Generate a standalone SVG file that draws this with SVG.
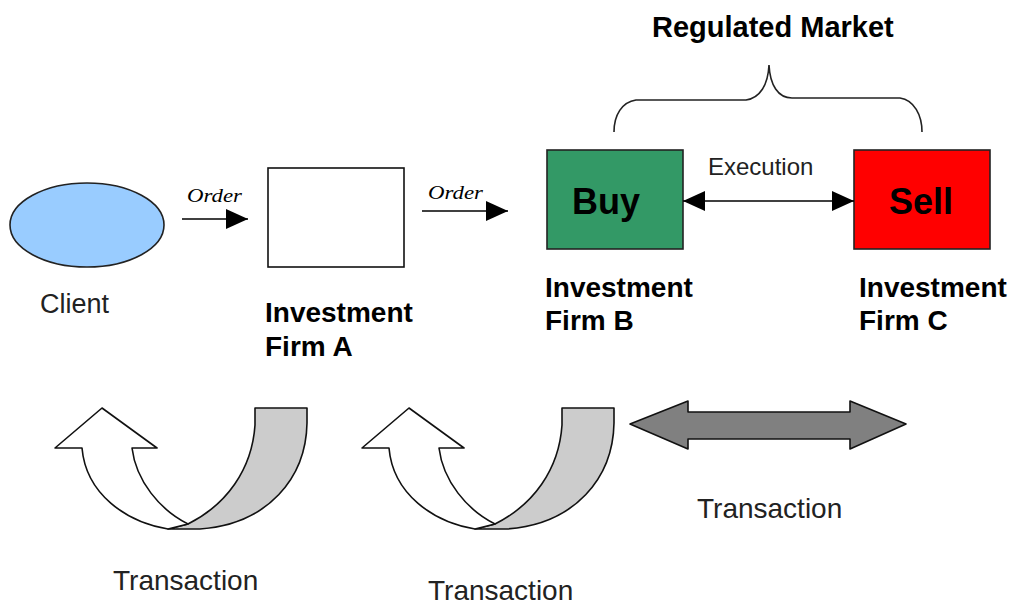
<svg xmlns="http://www.w3.org/2000/svg" width="1016" height="605" viewBox="0 0 1016 605">
<style>
.lbl{font-family:"Liberation Sans",Arial,sans-serif;font-size:27px;fill:#222}
.bold{font-family:"Liberation Sans",Arial,sans-serif;font-size:28px;font-weight:bold;fill:#000}
.big{font-family:"Liberation Sans",Arial,sans-serif;font-size:36px;font-weight:bold;fill:#000}
.ord{font-family:"Liberation Serif","Times New Roman",serif;font-size:18px;font-style:italic;fill:#000}
.edge{stroke:#000;stroke-width:1.6;fill:none}
.shape{stroke:#111;stroke-width:1.6;stroke-linejoin:round}
</style>
<defs>
<marker id="ahBig" markerWidth="22" markerHeight="20" refX="22" refY="10" orient="auto" markerUnits="userSpaceOnUse">
<path d="M0,0 L22,10 L0,20 Z" fill="#000"/>
</marker>
<marker id="ahBigS" markerWidth="22" markerHeight="20" refX="0" refY="10" orient="auto" markerUnits="userSpaceOnUse">
<path d="M22,0 L0,10 L22,20 Z" fill="#000"/>
</marker>
<g id="curved">
<path class="shape" fill="#cccccc" d="M255,408 L307,408 L307,423 C306,478 268,524 200,529 L168,529 L188,524 C226,505 252,470 255,425 Z"/>
<path class="shape" fill="#ffffff" d="M168,529 C126,522 86,494 82,448 L55,448 L102,408 L157,448 L132,448 C136,481 160,510 188,524 Z"/>
</g>
</defs>

<g id="title">
<text x="652" y="37" class="bold" style="font-size:29px">Regulated Market</text>
<path d="M614,132 C614,115 622,102 636,100 L746,100 C760,98 768,85 769,65 C770,85 778,98 792,98 L900,98 C914,100 922,115 922,132" fill="none" stroke="#222" stroke-width="1.6"/>
</g>

<g id="client">
<ellipse cx="87" cy="225" rx="77" ry="42" fill="#99ccff" stroke="#222" stroke-width="1.6"/>
<text x="40" y="313" class="lbl">Client</text>
</g>

<g id="firmA">
<rect x="268" y="168" width="136" height="99" fill="#fff" stroke="#111" stroke-width="1.6"/>
<text x="265" y="322" class="bold">Investment</text>
<text x="265" y="356" class="bold">Firm A</text>
</g>

<g id="firmB">
<rect x="547" y="150" width="136" height="99" fill="#339966" stroke="#222" stroke-width="1.6"/>
<text x="572" y="214" class="big">Buy</text>
<text x="545" y="297" class="bold">Investment</text>
<text x="545" y="330" class="bold">Firm B</text>
</g>

<g id="firmC">
<rect x="854" y="150" width="136" height="99" fill="#ff0000" stroke="#222" stroke-width="1.6"/>
<text x="889" y="214" class="big">Sell</text>
<text x="859" y="297" class="bold">Investment</text>
<text x="859" y="330" class="bold">Firm C</text>
</g>

<g id="connectors">
<line x1="182" y1="219" x2="248" y2="219" class="edge" marker-end="url(#ahBig)"/>
<text x="187" y="202" class="ord" textLength="55" lengthAdjust="spacingAndGlyphs">Order</text>
<line x1="422" y1="211" x2="508" y2="211" class="edge" marker-end="url(#ahBig)"/>
<text x="428" y="199" class="ord" textLength="55" lengthAdjust="spacingAndGlyphs">Order</text>
<line x1="683" y1="201" x2="854" y2="201" class="edge" marker-start="url(#ahBigS)" marker-end="url(#ahBig)"/>
<text x="708" y="175" class="lbl" style="font-size:24px">Execution</text>
</g>

<g id="transaction1">
<use href="#curved"/>
<text x="113" y="590" class="lbl" style="font-size:28px">Transaction</text>
</g>

<g id="transaction2">
<use href="#curved" transform="translate(307,0)"/>
<text x="428" y="600" class="lbl" style="font-size:28px">Transaction</text>
</g>

<g id="transaction3">
<path class="shape" fill="#808080" d="M630,424 L688,401 L688,412 L850,412 L850,401 L906,424 L850,449 L850,439 L688,439 L688,449 Z"/>
<text x="697" y="518" class="lbl" style="font-size:28px">Transaction</text>
</g>
</svg>
